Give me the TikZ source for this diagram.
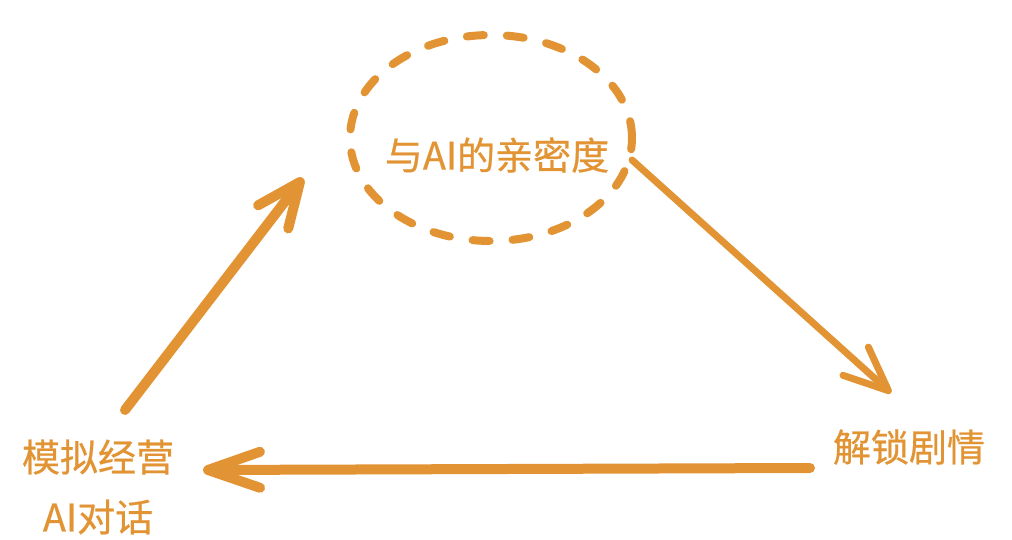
\documentclass[tikz,border=0pt]{standalone}
\usepackage{fontspec}
\newfontfamily\cjk[FakeBold=0.6]{Noto Sans CJK SC}
\usetikzlibrary{arrows.meta,shapes.geometric}
\definecolor{amber}{RGB}{226,148,52}
\begin{document}
\begin{tikzpicture}[x=1pt,y=-1pt,
		word/.style={text=amber, font=\cjk\fontsize{38}{60}\selectfont, align=center, inner sep=0pt},
		barb/.style={draw=amber, line cap=round, line join=round,
			-{Straight Barb[length=44pt,width=38pt,round]}}]
	% canvas, in pixels of the reference
	\useasboundingbox (0,0) rectangle (1012,540);
	% dashed ring round the middle goal
	\node[ellipse, draw=amber, line width=8pt, dash pattern=on 17pt off 23pt,
		line cap=round, minimum width=282pt, minimum height=206pt,
		inner sep=0pt] (ring) at (491,138) {};
	% labels
	\node[word] (bond)   at (497,155) {与AI的亲密度};
	\node[word] (sim)    at (98,487)  {模拟经营\\AI对话};
	\node[word] (unlock) at (909,447) {解锁剧情};
	% arrow ends
	\coordinate (up tail)   at (125,410);
	\coordinate (up head)   at (303,178);
	\coordinate (down tail) at (632,160);
	\coordinate (down head) at (891,393);
	\coordinate (back tail) at (810,468);
	\coordinate (back head) at (203,470);
	% arrows
	\draw[barb, line width=10pt] (up tail) -- (up head);
	\draw[barb, line width=7pt]  (down tail) -- (down head);
	\draw[barb, line width=10pt, -{Straight Barb[length=52pt,width=36pt,round]}]
		(back tail) -- (back head);
\end{tikzpicture}
\end{document}
